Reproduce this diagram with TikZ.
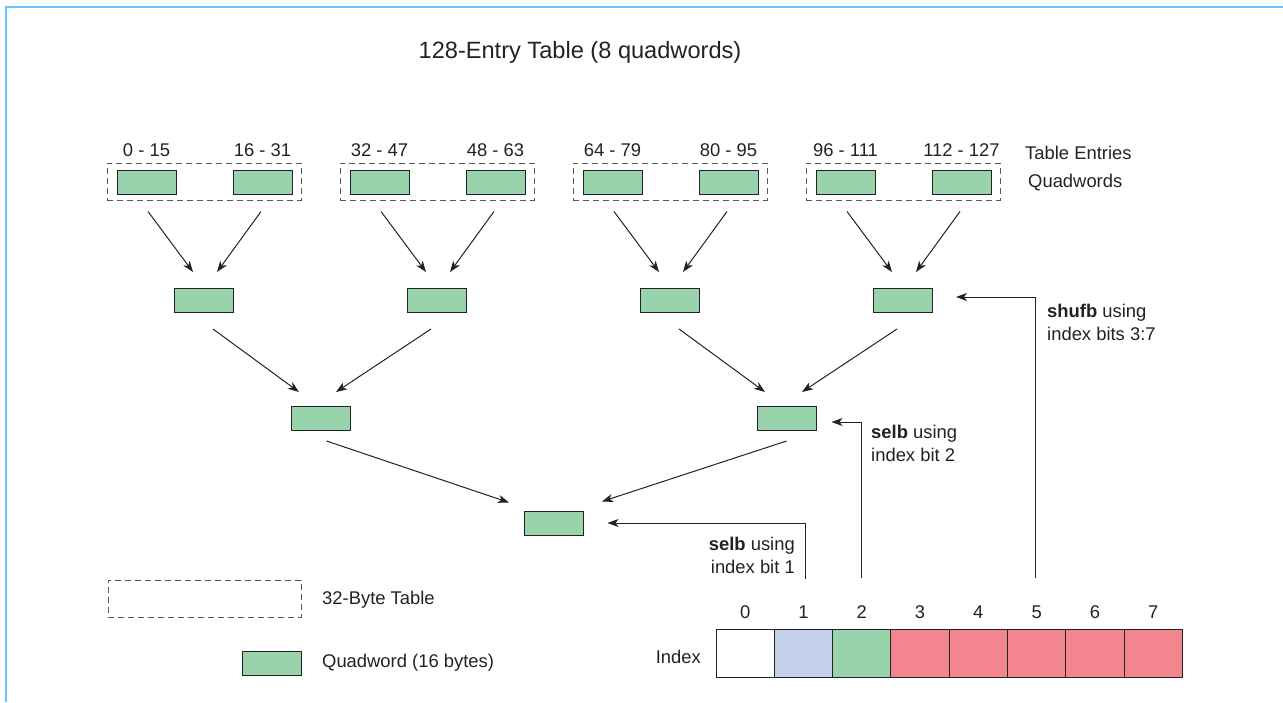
\documentclass[tikz,border=0pt]{standalone}
\usepackage{fontspec}
\setmainfont{Liberation Sans}
\usetikzlibrary{calc,arrows.meta}
\definecolor{qgreen}{RGB}{153,211,172}
\definecolor{iblue}{RGB}{195,208,234}
\definecolor{ired}{RGB}{243,133,143}
\definecolor{framec}{RGB}{102,194,255}
\definecolor{inkc}{RGB}{34,34,34}
\tikzset{
  qword/.style={draw=inkc,fill=qgreen,line width=1pt,minimum width=59pt,minimum height=24pt,inner sep=0pt},
  tbl/.style={draw=black!65,dash pattern=on 6pt off 4pt,line width=1pt,minimum width=194pt,minimum height=37pt,inner sep=0pt},
  cell/.style={draw=inkc,line width=1pt,minimum width=58.3pt,minimum height=48pt,inner sep=0pt},
  txt/.style={text=inkc,font=\fontsize{18.4}{23}\selectfont,inner sep=0pt},
  arr/.style={-{Stealth[length=11pt,width=8pt,inset=3pt]},draw=inkc,line width=1pt}
}
\begin{document}
\begin{tikzpicture}[x=1pt,y=-1pt]
			\useasboundingbox (0,0) rectangle (1283,702);
			\draw[framec,line width=2.2pt] (6,702)--(6,7)--(1283,7);
			\node[txt,font=\fontsize{23.6}{27}\selectfont] (title) at (580,52) {128-Entry Table (8 quadwords)};
			\foreach \g/\ea/\eb in {1/0 - 15/16 - 31,2/32 - 47/48 - 63,3/64 - 79/80 - 95,4/96 - 111/112 - 127}{
				\pgfmathsetmacro\gx{204+233*(\g-1)}
				\node[tbl] (t\g) at (\gx,181.5) {};
				\node[qword] (qa\g) at (\gx-57.5,182) {};
				\node[qword] (qb\g) at (\gx+58.5,182) {};
				\node[txt] (ea\g) at (\gx-57.5,150) {\ea};
				\node[txt] (eb\g) at (\gx+58.5,150) {\eb};
				\node[qword] (m\g) at (\gx,300.5) {};
				\draw[arr] ($(qa\g.south)+(1.5,17)$)--($(m\g.north)+(-11,-16)$);
				\draw[arr] ($(qb\g.south)+(-1.5,17)$)--($(m\g.north)+(13,-16)$);
			}
			\node[txt,anchor=west] (entries) at (1025,153) {Table Entries};
			\node[txt,anchor=west] (qwords) at (1028,183) {Quadwords};
			\node[qword] (s1) at (320.5,418.5) {};
			\node[qword] (s2) at (786.5,418.5) {};
			\foreach \s/\l/\r in {1/1/2,2/3/4}{
				\draw[arr] ($(m\l.south)+(9,16)$)--($(s\s.north)+(-21.5,-14)$);
				\draw[arr] ($(m\r.south)+(-6,16)$)--($(s\s.north)+(15.5,-14)$);
			}
			\node[qword] (f) at (553.5,523) {};
			\draw[arr] ($(s1.south)+(6,10)$)--($(f.north)+(-44.5,-8)$);
			\draw[arr] ($(s2.south)+(0,10)$)--($(f.north)+(48.5,-9)$);
			\foreach \i/\c in {0/white,1/iblue,2/qgreen,3/ired,4/ired,5/ired,6/ired,7/ired}{
				\node[cell,fill=\c] (c\i) at (745.15+58.3*\i,653) {};
				\node[txt] (n\i) at ($(c\i.north)+(0,-16)$) {\i};
			}
			\node[txt,anchor=east] (idx) at (701,657) {Index};
			\draw[arr] ($(c1.north)+(2,-50)$)|-($(f.east)+(24,0)$);
			\draw[arr] ($(c2.north)+(0,-51)$)|-($(s2.east)+(15,3.5)$);
			\draw[arr] ($(c5.north)+(-1.5,-51)$)|-($(m4.east)+(23,-3.5)$);
			\node[txt,align=right,anchor=east] (sel1) at (795,555) {\textbf{selb} using\\index bit 1};
			\node[txt,align=left,anchor=west] (sel2) at (871,443) {\textbf{selb} using\\index bit 2};
			\node[txt,align=left,anchor=west] (shuf) at (1047,322) {\textbf{shufb} using\\index bits 3:7};
			\node[tbl,minimum width=193pt] (ltbl) at (204.5,598.5) {};
			\node[txt,anchor=west] (ltbltxt) at (322,600) {32-Byte Table};
			\node[qword] (lq) at (271.5,663.5) {};
			\node[txt,anchor=west] (lqtxt) at (322,663) {Quadword (16 bytes)};
		\end{tikzpicture}
\end{document}
